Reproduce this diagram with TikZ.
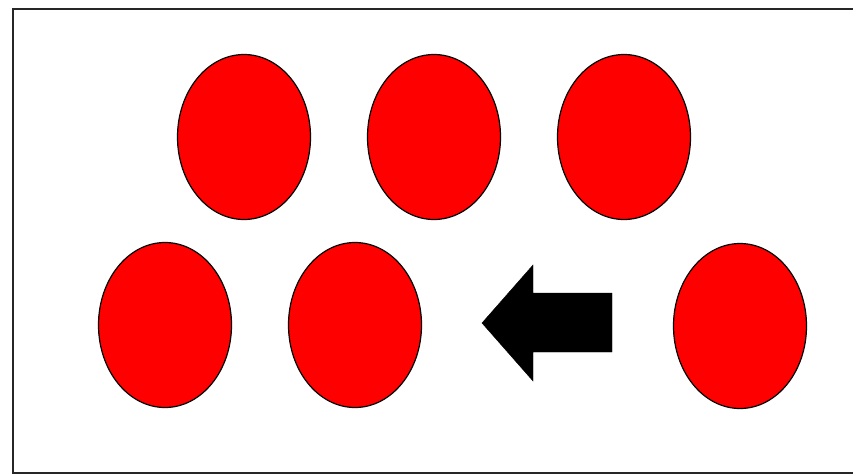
\documentclass[tikz,border=0pt]{standalone}
\usepackage{tikz}
\usetikzlibrary{
    shapes.geometric,
    positioning
}
\tikzset{
    % --- Red ball (ellipse) ---
    ball/.style = {
        ellipse, draw=black, fill=red, line width=1.2pt,
        minimum width=133pt, minimum height=165pt,
        inner sep=0pt
    },
    % --- Frame around the scene ---
    frame/.style = {
        draw=black!85, line width=2pt
    },
    % --- Block arrow ---
    move arrow/.style = {
        fill=black, draw=black, line width=0.4pt
    }
}

\begin{document}
\begin{tikzpicture}[x=1pt, y=-1pt]

\useasboundingbox (0,0) rectangle (853,474);

% ---------------------------------------------------------
% Frame
% ---------------------------------------------------------
\draw[frame] (13,9) rectangle (870,472.5);

% ---------------------------------------------------------
% Top row
% ---------------------------------------------------------
\node[ball] (T1) at (244,137) {};
\node[ball] (T2) at (434,137) {};
\node[ball] (T3) at (624,137) {};

% ---------------------------------------------------------
% Bottom row
% ---------------------------------------------------------
\node[ball] (B1) at (165,325) {};
\node[ball] (B2) at (355,325) {};
\node[ball] (B3) at (740,326) {};

% ---------------------------------------------------------
% Arrow pointing left
% ---------------------------------------------------------
\coordinate (tip) at (482,323);
\filldraw[move arrow] (tip) -- (533,265) -- (533,293) -- (612,293)
    -- (612,352) -- (533,352) -- (533,381) -- cycle;

\end{tikzpicture}
\end{document}
